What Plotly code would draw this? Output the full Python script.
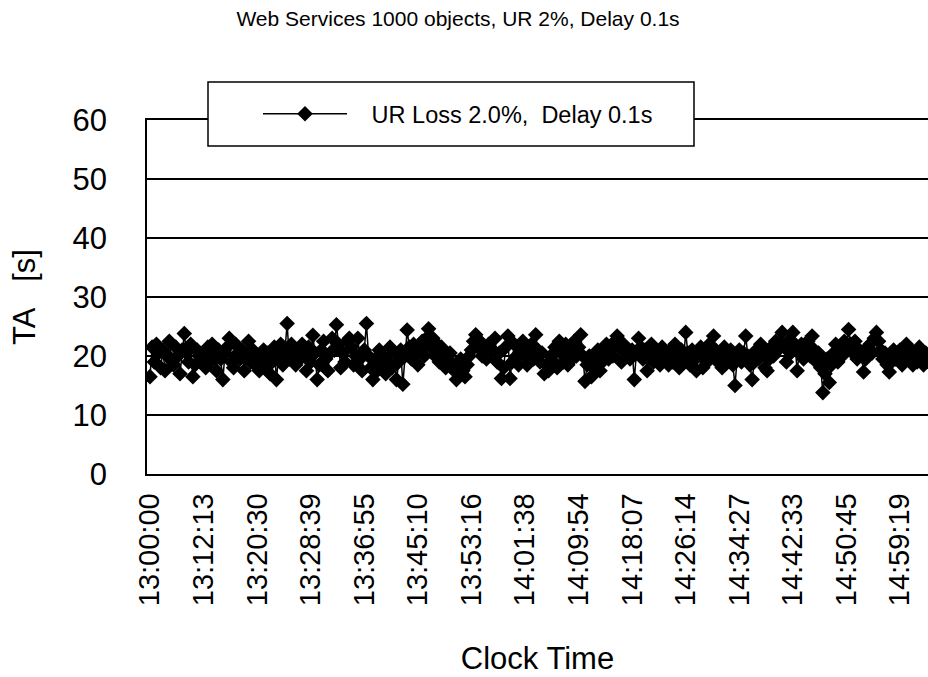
import plotly.graph_objects as go

# Turnaround time (seconds) of each Web Services request, in measurement order
ta_values = [
    16.5, 21.5, 19.0, 22.0, 20.5, 18.0, 21.0, 17.5, 20.0, 22.5, 19.5, 18.5, 21.5,
    20.0, 17.0, 21.0, 23.8, 20.5, 19.0, 22.0, 16.5, 18.5, 21.0, 20.0, 19.5,
    20.5, 18.0, 21.5, 19.0, 22.0, 20.0, 17.5, 21.0, 19.5, 16.0, 20.5, 21.5, 23.0,
    19.0, 18.0, 22.0, 20.5, 19.5, 21.0, 17.5, 20.0, 22.5, 19.0, 21.0, 18.5,
    20.0, 17.5, 19.5, 21.0, 18.0, 20.5, 17.0, 19.0, 21.5, 16.0, 20.0, 22.0, 18.5,
    21.0, 25.5, 19.5, 22.0, 20.5, 18.5, 21.0, 19.5, 22.0, 20.0, 17.5, 21.5,
    19.0, 23.5, 20.5, 16.0, 18.5, 21.0, 22.5, 19.5, 17.5, 20.5, 23.0, 21.0, 25.3,
    22.0, 18.0, 20.5, 19.0, 22.5, 23.0, 21.5, 18.5, 20.0, 23.0, 19.5, 17.5,
    21.0, 25.5, 20.0, 18.0, 16.0, 19.5, 17.5, 21.0, 18.5, 20.0, 17.0, 19.0, 21.5,
    18.0, 20.5, 16.0, 19.0, 21.0, 15.2, 20.0, 24.4, 21.5, 19.5, 22.0, 20.5,
    18.5, 21.0, 22.5, 20.0, 23.0, 24.6, 21.5, 23.0, 20.0, 22.0, 19.0, 21.5, 20.0,
    18.0, 19.5, 20.5, 18.5, 17.5, 16.0, 18.0, 19.5, 17.5, 16.5, 18.5, 20.0,
    21.0, 22.5, 23.6, 21.5, 22.5, 20.0, 21.5, 19.5, 22.0, 20.5, 21.0, 23.0, 19.0,
    20.5, 16.2, 18.0, 21.5, 23.4, 16.2, 19.0, 22.0, 20.0, 18.5, 21.0, 22.5,
    20.0, 18.5, 21.0, 22.0, 19.5, 23.6, 21.0, 19.0, 20.5, 17.0, 18.5, 17.5, 20.0,
    19.0, 21.5, 18.0, 22.5, 20.5, 19.0, 22.0, 18.5, 21.0, 19.5, 22.5, 20.0,
    21.5, 23.6, 20.0, 15.7, 18.5, 20.0, 16.5, 18.0, 19.5, 21.0, 17.5, 19.0, 20.5,
    22.0, 19.5, 21.0, 20.0, 22.5, 23.4, 21.5, 19.0, 22.0, 20.5, 21.0, 19.5,
    21.0, 16.0, 20.5, 23.0, 21.5, 19.5, 21.0, 17.5, 20.0, 22.0, 19.0, 21.0, 20.0,
    18.5, 21.5, 19.5, 20.5, 18.5, 21.0, 19.0, 22.0, 20.0, 18.0, 21.0, 19.5,
    24.0, 20.5, 18.5, 21.0, 19.5, 17.5, 20.0, 21.5, 18.0, 20.5, 19.0, 22.0, 20.0,
    23.4, 21.0, 19.0, 20.5, 18.0, 21.5, 19.5, 20.0, 21.0, 18.5, 15.0, 19.5,
    21.0, 19.0, 20.5, 23.4, 20.0, 18.5, 16.0, 19.0, 21.0, 19.5, 22.0, 20.5, 18.0,
    17.5, 19.5, 21.5, 20.0, 22.5, 21.0, 22.0, 24.0, 21.5, 19.0, 22.5, 20.5,
    24.0, 22.0, 17.5, 20.5, 22.0, 19.5, 21.0, 22.5, 20.0, 23.4, 21.0, 19.0, 20.5,
    18.0, 13.8, 17.0, 19.5, 15.5, 18.5, 20.5, 22.0, 19.0, 21.5, 20.0, 22.5,
    21.0, 24.5, 22.0, 20.5, 22.5, 19.5, 21.0, 20.0, 17.3, 19.5, 21.5, 22.0, 20.5,
    23.0, 24.0, 22.5, 21.0, 19.5, 20.5, 18.5, 17.3, 19.0, 21.0, 19.5, 20.0,
    21.0, 18.5, 20.0, 22.0, 19.5, 21.0, 18.5, 20.5, 19.0, 21.5, 20.0, 18.5, 20.5,
    19.5,
]

# Clock-time labels shown on the category axis (one every label_every samples)
time_labels = [
    "13:00:00", "13:12:13", "13:20:30", "13:28:39", "13:36:55",
    "13:45:10", "13:53:16", "14:01:38", "14:09:54", "14:18:07",
    "14:26:14", "14:34:27", "14:42:33", "14:50:45", "14:59:19",
]
label_every = 25

y_ticks = [0, 10, 20, 30, 40, 50, 60]

series_name = "UR Loss 2.0%,  Delay 0.1s"
chart_title = "Web Services 1000 objects, UR 2%, Delay 0.1s"

sample = list(range(len(ta_values)))
tick_positions = [k * label_every for k in range(len(time_labels))]

FONT = "Liberation Sans, Arial, sans-serif"

fig = go.Figure()
fig.add_trace(go.Scatter(
    x=sample,
    y=ta_values,
    mode="lines+markers",
    name="\u00a0\u00a0\u00a0" + series_name,
    line=dict(color="black", width=1.5),
    marker=dict(symbol="diamond", size=12, color="black"),
))

W, H = 928, 677
L, R, T, B = 147, 0, 120, 203
plot_w = W - L - R
plot_h = H - T - B

# legend frame in pixel space -> paper coordinates
box_l, box_r, box_t, box_b = 208, 694, 82, 146
fig.add_shape(
    type="rect", xref="paper", yref="paper",
    x0=(box_l - L) / plot_w, x1=(box_r - L) / plot_w,
    y0=(H - B - box_b) / plot_h, y1=(H - B - box_t) / plot_h,
    line=dict(color="black", width=1.5), fillcolor="white", layer="above",
)

fig.update_layout(
    width=W, height=H,
    margin=dict(l=L, r=R, t=T, b=B, pad=0),
    paper_bgcolor="white", plot_bgcolor="white",
    font=dict(family=FONT, color="black"),
    title=dict(
        text=chart_title, font=dict(size=21, family=FONT, color="black"),
        xref="container", yref="container",
        x=458 / W, xanchor="center", y=1 - 19 / H, yanchor="middle",
    ),
    showlegend=True,
    legend=dict(
        x=(258 - L) / plot_w, xanchor="left",
        y=(H - B - 114) / plot_h, yanchor="middle",
        bgcolor="rgba(0,0,0,0)", borderwidth=0,
        font=dict(size=23.5, family=FONT, color="black"),
        itemwidth=84,
    ),
    xaxis=dict(
        range=[-1.4, 363.07],
        tickmode="array", tickvals=tick_positions, ticktext=time_labels,
        tickangle=-90, tickfont=dict(size=29, family=FONT, color="black"),
        ticks="", showgrid=False, zeroline=False,
        showline=True, mirror=True, linecolor="black", linewidth=1.5,
        ticklabelstandoff=6,
        title=dict(text="Clock Time", font=dict(size=31, family=FONT, color="black"),
                   standoff=42),
    ),
    yaxis=dict(
        range=[0, 60], tickmode="array", tickvals=y_ticks,
        tickfont=dict(size=31, family=FONT, color="black"),
        ticks="", showgrid=True, gridcolor="black", gridwidth=1.5,
        zeroline=False, showline=True, linecolor="black", linewidth=1.5,
        ticklabelstandoff=32,
        title=dict(text="TA\u00a0\u00a0\u00a0[s]", font=dict(size=31, family=FONT, color="black"),
                   standoff=28),
    ),
)

fig.write_html("out.html")
